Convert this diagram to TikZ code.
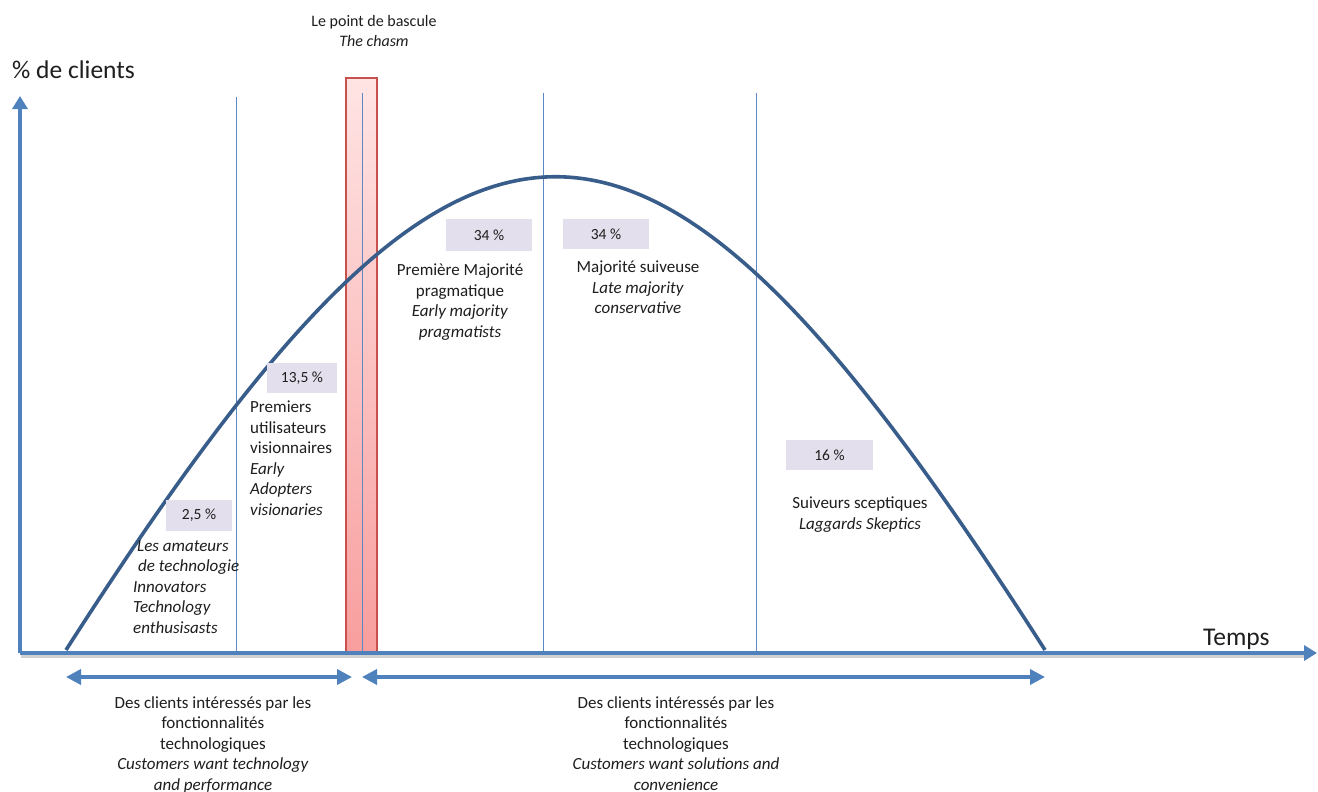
\documentclass[tikz,border=0pt]{standalone}
\usepackage{fontspec}
\setmainfont{Carlito}
\usetikzlibrary{arrows.meta}

\definecolor{axisblue}{RGB}{79,129,189}
\definecolor{curveblue}{RGB}{56,93,138}
\definecolor{guideblue}{RGB}{91,135,196}
\definecolor{boxfill}{RGB}{228,223,236}
\definecolor{chasmedge}{RGB}{200,80,77}
\definecolor{chasmtop}{RGB}{255,228,228}
\definecolor{chasmbot}{RGB}{248,158,158}
\definecolor{txt}{RGB}{30,30,30}

\tikzset{
  axisline/.style={draw=axisblue, line width=3.6pt, -{Triangle[width=15pt,length=13pt]}},
  axisshadow/.style={draw=black, opacity=0.18, line width=3pt},
  spanarrow/.style={draw=axisblue, line width=3.6pt,
    {Triangle[width=15pt,length=15pt]}-{Triangle[width=15pt,length=15pt]}},
  guide/.style={draw=guideblue, line width=1pt},
  bell/.style={draw=curveblue, line width=3.6pt},
  pct/.style={fill=boxfill, inner sep=0pt, text=txt, font=\fontsize{15.5}{18}\selectfont},
  lbl/.style={inner sep=0pt, text=txt, font=\fontsize{17}{20.5}\selectfont},
  big/.style={inner sep=0pt, text=txt, font=\fontsize{25.5}{30}\selectfont},
}

\begin{document}
\begin{tikzpicture}[x=1pt,y=-1pt]
\useasboundingbox[fill=white] (0,0) rectangle (1318,792);

% the chasm band
\node[draw=chasmedge, line width=1.2pt, top color=chasmtop, bottom color=chasmbot,
      minimum width=31pt, minimum height=575pt, inner sep=0pt] (chasm) at (361.5,365.5) {};

% vertical dividers between the adopter groups
\coordinate (g1t) at (236,97);  \coordinate (g1b) at (236,653);
\coordinate (g2t) at (362,93);  \coordinate (g2b) at (362,653);
\coordinate (g3t) at (543,93);  \coordinate (g3b) at (543,653);
\coordinate (g4t) at (756,93);  \coordinate (g4b) at (756,653);
\draw[guide] (g1t) -- (g1b);
\draw[guide] (g2t) -- (g2b);
\draw[guide] (g3t) -- (g3b);
\draw[guide] (g4t) -- (g4b);

% axes
\coordinate (origin) at (20,653);
\coordinate (ytop) at (20,96);
\coordinate (xend) at (1317,653);
\draw[axisshadow] (21,656) -- (1305,656);
\draw[axisline] (origin) -- (ytop);
\draw[axisline] (origin) -- (xend);

% adoption curve
\coordinate (cstart) at (66,650);
\coordinate (cend) at (1045,650);
\draw[bell] (cstart) .. controls (470,19) and (641,19) .. (cend);

% spans below the time axis
\coordinate (s1a) at (66,677);  \coordinate (s1b) at (352,677);
\coordinate (s2a) at (362,677); \coordinate (s2b) at (1045,677);
\draw[spanarrow] (s1a) -- (s1b);
\draw[spanarrow] (s2a) -- (s2b);

% axis titles
\node[big, anchor=north west] (ylab) at (12,61) {\% de clients};
\node[big, anchor=north west] (xlab) at (1203,629) {Temps};

% chasm title
\node[lbl, align=center, anchor=north, font=\fontsize{16}{20}\selectfont] (chasmlab) at (374,15)
  {Le point de bascule\\\textit{The chasm}};

% percentage boxes
\node[pct, minimum width=66pt, minimum height=31pt] (p1) at (199,515.5) {2,5 \%};
\node[pct, minimum width=70pt, minimum height=30pt] (p2) at (302,378) {13,5 \%};
\node[pct, minimum width=86pt, minimum height=32pt] (p3) at (489,235) {34 \%};
\node[pct, minimum width=86pt, minimum height=30pt] (p4) at (606,234) {34 \%};
\node[pct, minimum width=87pt, minimum height=30pt] (p5) at (829.5,455) {16 \%};

% group descriptions
\node[lbl, align=left, anchor=north west, font=\fontsize{17}{20.5}\selectfont\itshape] (innov) at (133,540)
  {\hspace*{4pt}Les amateurs\\\hspace*{5pt}de technologie\\Innovators\\Technology\\enthusisasts};
\node[lbl, align=left, anchor=north west] (early) at (250,401)
  {Premiers\\utilisateurs\\visionnaires\\\textit{Early}\\\textit{Adopters}\\\textit{visionaries}};
\node[lbl, align=center, anchor=north] (emaj) at (460,264)
  {Première Majorité\\pragmatique\\\textit{Early majority}\\\textit{pragmatists}};
\node[lbl, align=center, anchor=north] (lmaj) at (638,261)
  {Majorité suiveuse\\\textit{Late majority}\\\textit{conservative}};
\node[lbl, align=center, anchor=north] (lagg) at (860,497)
  {Suiveurs sceptiques\\\textit{Laggards Skeptics}};

% span descriptions
\node[lbl, align=center, anchor=north] (techlab) at (213,696)
  {Des clients intéressés par les\\fonctionnalités\\technologiques\\\textit{Customers want technology}\\\textit{and performance}};
\node[lbl, align=center, anchor=north] (sollab) at (676,696)
  {Des clients intéressés par les\\fonctionnalités\\technologiques\\\textit{Customers want solutions and}\\\textit{convenience}};
\end{tikzpicture}
\end{document}
